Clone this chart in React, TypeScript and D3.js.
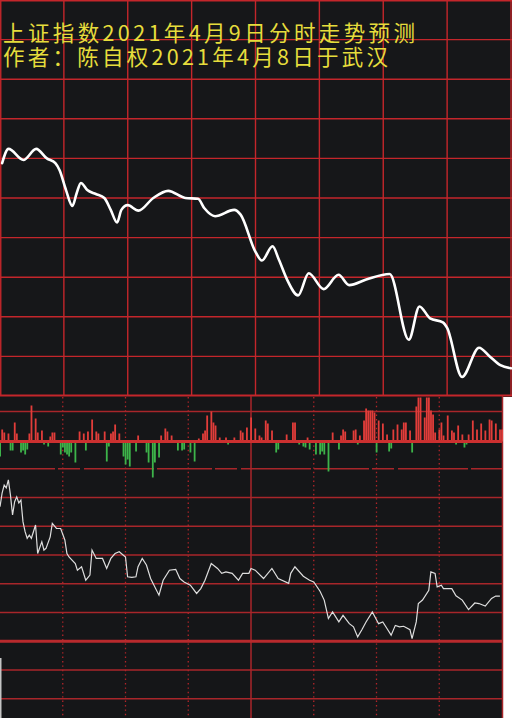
import React from 'react';
import * as d3 from 'd3';

const W = 512;
const H = 718;

const titleLines = ['上证指数2021年4月9日分时走势预测', '作者：陈自权2021年4月8日于武汉'];

// Forecast (top panel), minutes from open
const forecastMinute = [1,4,11,17,22,26,28,31,34,36,38,41,45,49,52,55,57,60,65,72,79,87,93,96,101,110,113,120,123,128,131,135,140,145,152,159,164,172,183,192,197,202,208,210,217,225,230,235,240];
const forecastValue = [3479.4,3481.2,3479.8,3481.2,3480.0,3479.4,3478.5,3476.0,3474.0,3475.6,3476.9,3476.0,3475.5,3475.0,3473.5,3471.9,3473.5,3474.1,3473.4,3475.0,3475.9,3475.0,3474.9,3473.7,3472.7,3473.5,3472.9,3468.2,3467.1,3468.9,3467.2,3464.6,3462.7,3465.5,3463.5,3465.3,3464.0,3464.7,3465.4,3457.1,3461.3,3459.8,3459.3,3458.6,3452.4,3456.1,3455.0,3453.9,3453.5];

// Bottom panel price line
const priceMinute = [0,1,2,3,4,5,6,7,8,9,10,11,12,13,14,15,17,18,20,21,22,24,25,27,29,31,32,33,36,37,39,41,43,44,46,49,51,53,55,57,60,61,63,65,66,68,70,72,76,78,81,84,86,88,91,94,96,98,101,104,106,108,111,114,116,119,120,122,126,130,133,138,139,141,145,148,150,153,155,157,159,162,164,167,169,171,173,175,178,181,183,185,187,189,191,193,196,197,199,200,202,205,206,208,209,211,212,216,218,221,224,227,229,232,235,237,239];
const priceValue = [3486.8,3491.5,3494.3,3493.3,3496.1,3490.8,3483.9,3488.5,3490.2,3488.1,3489.1,3481.5,3478.1,3475.8,3476.9,3475.8,3480.4,3470.5,3474.6,3471.7,3472.3,3476.3,3481.0,3479.2,3479.2,3475.2,3470.5,3469.3,3467.0,3464.7,3465.9,3461.2,3463.0,3471.7,3468.8,3468.8,3465.3,3468.8,3470.5,3471.1,3469.3,3462.4,3462.2,3462.4,3465.9,3468.8,3466.5,3461.8,3456.0,3461.2,3464.7,3465.0,3461.8,3460.6,3459.5,3456.6,3458.3,3461.2,3467.0,3465.3,3463.6,3464.1,3463.6,3461.2,3463.6,3463.6,3465.3,3464.7,3461.8,3465.3,3461.8,3460.1,3463.6,3465.9,3462.6,3461.2,3460.6,3457.4,3454.3,3447.9,3450.2,3446.7,3449.0,3446.1,3445.0,3441.5,3444.0,3446.7,3450.2,3446.1,3446.7,3444.4,3442.1,3445.5,3445.0,3445.2,3444.0,3440.9,3446.7,3453.1,3454.3,3457.7,3464.1,3463.6,3458.9,3459.5,3458.3,3458.3,3455.8,3454.3,3451.0,3453.3,3453.1,3452.2,3454.9,3455.7,3455.7];

// Bottom panel flow bars (positive red, negative green)
const flowMinute = [0,1,2,4,5,6,7,8,10,11,12,13,14,15,17,18,20,21,23,24,25,26,29,30,31,32,33,34,36,38,40,41,42,44,46,47,48,50,51,52,53,54,55,56,57,59,60,61,62,65,66,70,71,73,74,76,77,79,80,82,84,85,87,88,91,93,95,97,98,99,101,102,103,105,106,108,109,112,114,115,116,118,120,122,124,125,127,128,130,132,133,135,137,139,140,141,143,145,146,147,148,151,153,154,155,157,159,162,163,164,165,169,170,171,172,174,175,176,177,178,179,180,181,183,185,186,187,188,190,192,193,194,196,197,199,200,201,203,204,205,206,207,208,210,211,212,214,216,217,218,219,221,222,223,224,226,228,230,232,234,235,237,239,240];
const flowValue = [-15,12,9,8,-9,-9,19,8,-11,-9,-13,-8,8,36,23,9,11,-3,-5,5,9,9,-13,-6,-11,-13,-15,-11,-21,10,8,-9,10,22,10,8,-1,10,-20,-5,8,10,17,-1,8,-15,-23,-18,-25,-10,6,-11,-21,-36,-21,-16,6,13,10,6,-1,-9,-9,-8,-11,-20,3,8,11,26,30,19,16,4,-1,4,-3,4,-1,11,9,14,24,13,6,4,21,18,11,-11,-8,-1,7,-1,19,19,-3,-5,-6,4,-8,-13,-13,-10,-13,-30,9,-8,6,12,10,11,12,-3,6,21,33,31,31,31,29,-11,21,18,7,-10,-7,12,17,12,19,19,11,-11,35,44,44,24,44,44,31,27,9,12,19,6,26,11,9,-3,16,7,-6,-3,7,21,12,18,11,22,21,18,12,12];

const TOP_BG = '#161719';
const BOT_BG = '#151618';
const GRID_TOP = '#c4262b';
const GRID_BOT = '#a8262a';

export default function App() {
  // top panel scales
  const xT = d3.scaleLinear().domain([0, 240]).range([0, 511]);
  const yT = d3.scaleLinear().domain([3500, 3450]).range([0, 396]);
  const topGridY = d3.range(3500, 3449, -5);
  const topGridX = d3.range(0, 241, 30);
  const forecastLine = d3
    .line<number>()
    .x((_, i) => xT(forecastMinute[i]))
    .y((d) => yT(d))
    .curve(d3.curveMonotoneX)(forecastValue);

  // bottom panel scales
  const xB = d3.scaleLinear().domain([0, 240]).range([0, 502]);
  const yP = d3.scaleLinear().domain([3500, 3410]).range([468.7, 727.45]);
  const yV = d3.scaleLinear().domain([-45, 45]).range([441.5 + 45, 441.5 - 45]);
  const priceGrid = d3.range(3500, 3419, -10);
  const dottedX = [30, 60, 90, 150, 180, 210];
  const priceLine = d3
    .line<number>()
    .x((_, i) => xB(priceMinute[i]))
    .y((d) => yP(d))
    .curve(d3.curveLinear)(priceValue);

  const clampX = (x: number) => Math.min(Math.max(x, 0.75), W - 0.75);

  return (
    <svg
      width={W}
      height={H}
      style={{ position: 'absolute', left: 0, top: 0, display: 'block' }}
      xmlns="http://www.w3.org/2000/svg"
    >
      {/* top panel */}
      <rect x={0} y={0} width={W} height={397} fill={TOP_BG} />
      {topGridY.map((v) => (
        <line
          key={'ty' + v}
          x1={0}
          x2={W}
          y1={Math.min(Math.max(yT(v), 0.75), 395.5)}
          y2={Math.min(Math.max(yT(v), 0.75), 395.5)}
          stroke={GRID_TOP}
          strokeWidth={v === 3450 ? 2 : 1.4}
        />
      ))}
      {topGridX.map((m) => (
        <line
          key={'tx' + m}
          x1={clampX(xT(m))}
          x2={clampX(xT(m))}
          y1={0}
          y2={396}
          stroke={GRID_TOP}
          strokeWidth={1.4}
        />
      ))}

      {/* bottom panel */}
      <rect x={0} y={397} width={502} height={H - 397} fill={BOT_BG} />
      <rect x={502.5} y={397} width={W - 502.5} height={H - 397} fill="#ffffff" />

      {/* dotted verticals */}
      {dottedX.map((m) => (
        <line
          key={'dx' + m}
          x1={xB(m)}
          x2={xB(m)}
          y1={397}
          y2={H}
          stroke="#b22428"
          strokeWidth={1.3}
          strokeDasharray="1.4 3"
        />
      ))}
      {/* middle solid vertical + right border */}
      <line x1={xB(120)} x2={xB(120)} y1={396} y2={H} stroke={GRID_BOT} strokeWidth={1.5} />
      <line x1={xB(240) + 0.5} x2={xB(240) + 0.5} y1={396} y2={H} stroke={GRID_BOT} strokeWidth={1.5} />

      {/* volume area lines */}
      <line x1={0} x2={502} y1={yV(30)} y2={yV(30)} stroke={GRID_BOT} strokeWidth={1.5} />

      {/* price grid */}
      {priceGrid.map((v) => (
        <line
          key={'pg' + v}
          x1={0}
          x2={502}
          y1={yP(v)}
          y2={yP(v)}
          stroke={v === 3440 ? '#b82a2d' : GRID_BOT}
          strokeWidth={v === 3440 ? 3 : 1.5}
          strokeDasharray={v === 3500 ? '55 3 22 4 70 3' : undefined}
        />
      ))}

      {/* flow bars */}
      {flowValue.map((v, i) => {
        const x = xB(flowMinute[i]);
        const y0 = yV(0);
        const y1 = Math.max(yV(v), 397);
        return (
          <rect
            key={'f' + i}
            x={x - 0.8}
            width={1.8}
            y={Math.min(y0, y1)}
            height={Math.abs(y1 - y0)}
            fill={v >= 0 ? '#e23d3a' : '#3db44a'}
          />
        );
      })}
      <line x1={0} x2={502} y1={yV(0)} y2={yV(0)} stroke="#cc3030" strokeWidth={3} />

      {/* price line */}
      <path d={priceLine ?? ''} fill="none" stroke="#dedede" strokeWidth={1.2} strokeLinejoin="miter" />

      <rect x={0} y={658} width={1.5} height={H - 658} fill="#c4c4c4" />

      {/* forecast line */}
      <path
        d={forecastLine ?? ''}
        fill="none"
        stroke="#ffffff"
        strokeWidth={2.6}
        strokeLinecap="round"
        strokeLinejoin="round"
      />

      {/* title */}
      {titleLines.map((t, i) => (
        <text
          key={'t' + i}
          x={3}
          y={i === 0 ? 40.5 : 64.5}
          fill="#e6dd3c"
          fontFamily="'Noto Sans CJK SC', sans-serif"
          fontSize={21.5}
          textLength={i === 0 ? 412 : 385}
          lengthAdjust="spacing"
        >
          {t}
        </text>
      ))}
    </svg>
  );
}
